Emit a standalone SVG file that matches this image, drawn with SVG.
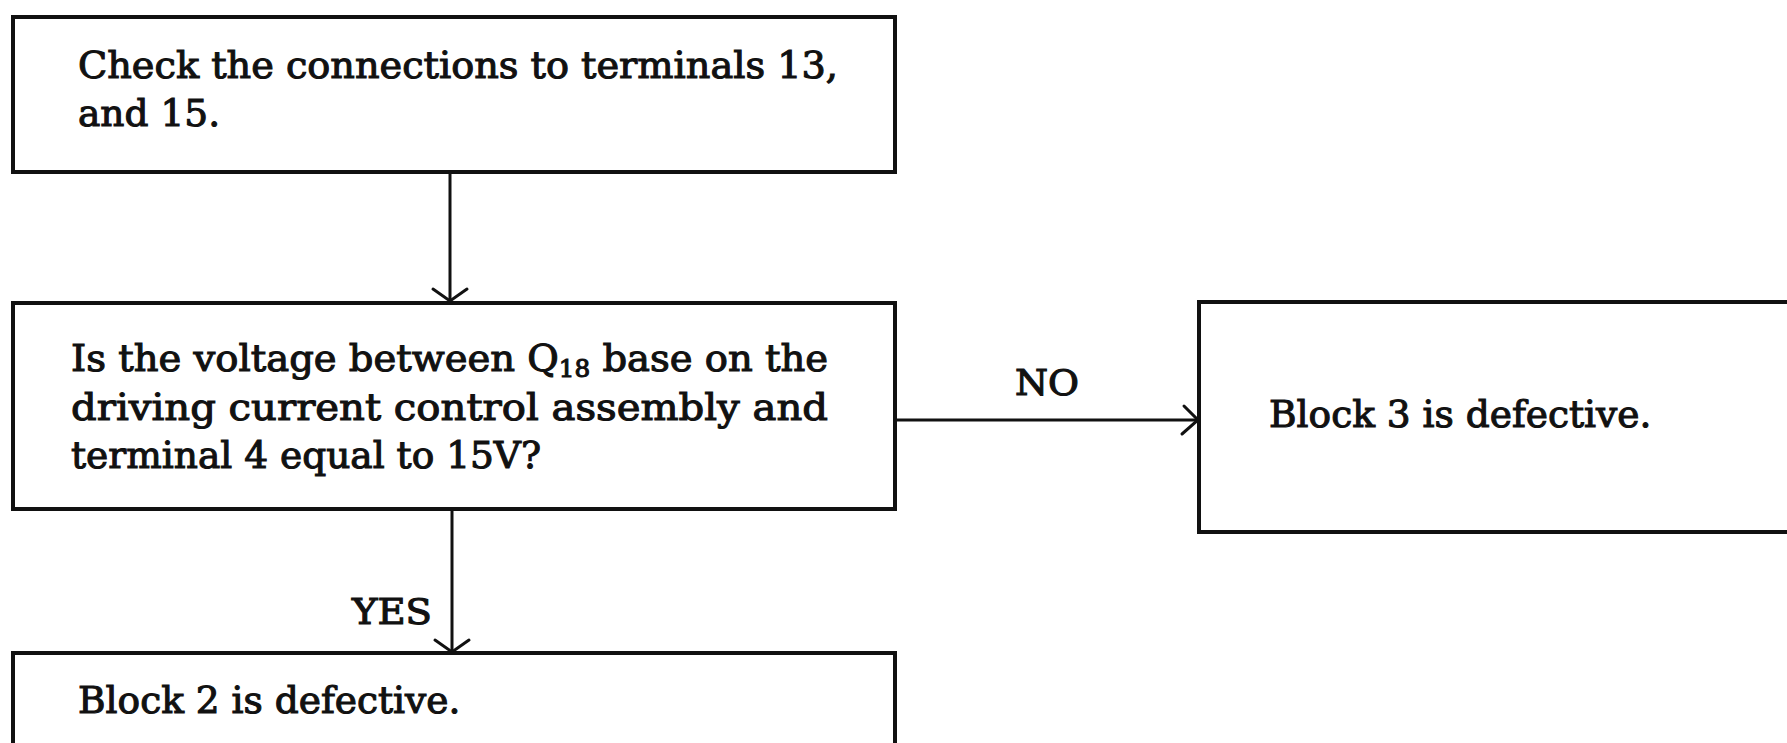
<svg xmlns="http://www.w3.org/2000/svg" width="1787" height="743" viewBox="0 0 1787 743">
<style>
.box{fill:#fff;stroke:#111;stroke-width:4}
.t{font-family:"DejaVu Serif","Liberation Serif",serif;font-size:37.5px;fill:#111;stroke:#111;stroke-width:1.1}
.lbl{font-family:"DejaVu Serif","Liberation Serif",serif;font-size:35px;fill:#111;stroke:#111;stroke-width:1.1}
.c{fill:none;stroke:#111;stroke-width:3}
.ah{fill:none;stroke:#111;stroke-width:3;stroke-linecap:round;stroke-linejoin:miter}
</style>
<rect width="1787" height="743" fill="#fff"/>
<g id="connectors">
<line class="c" x1="450" y1="172" x2="450" y2="301"/>
<polyline class="ah" points="433,289 450,301 467,289"/>
<line class="c" x1="452" y1="509" x2="452" y2="652"/>
<polyline class="ah" points="435,640 452,652 469,640"/>
<line class="c" x1="895" y1="420" x2="1198" y2="420"/>
<polyline class="ah" points="1184,406 1198,420 1182,434"/>
<text class="lbl" x="352" y="624" textLength="80" lengthAdjust="spacingAndGlyphs">YES</text>
<text class="lbl" x="1015" y="395" textLength="64" lengthAdjust="spacingAndGlyphs">NO</text>
</g>
<g id="n1">
<rect class="box" x="13" y="17" width="882" height="155"/>
<text class="t" x="78" y="78" textLength="760" lengthAdjust="spacingAndGlyphs">Check the connections to terminals 13,</text>
<text class="t" x="78" y="126">and 15.</text>
</g>
<g id="n2">
<rect class="box" x="13" y="303" width="882" height="206"/>
<text class="t" x="71" y="371" textLength="757" lengthAdjust="spacingAndGlyphs">Is the voltage between Q<tspan font-size="24" dy="6">18</tspan><tspan dy="-6"> base on the</tspan></text>
<text class="t" x="71" y="420" textLength="757" lengthAdjust="spacingAndGlyphs">driving current control assembly and</text>
<text class="t" x="71" y="468">terminal 4 equal to 15V?</text>
</g>
<g id="n3">
<rect class="box" x="1199" y="302" width="620" height="230"/>
<text class="t" x="1269" y="427">Block 3 is defective.</text>
</g>
<g id="n4">
<rect class="box" x="13" y="653" width="882" height="120"/>
<text class="t" x="78" y="713">Block 2 is defective.</text>
</g>
</svg>
